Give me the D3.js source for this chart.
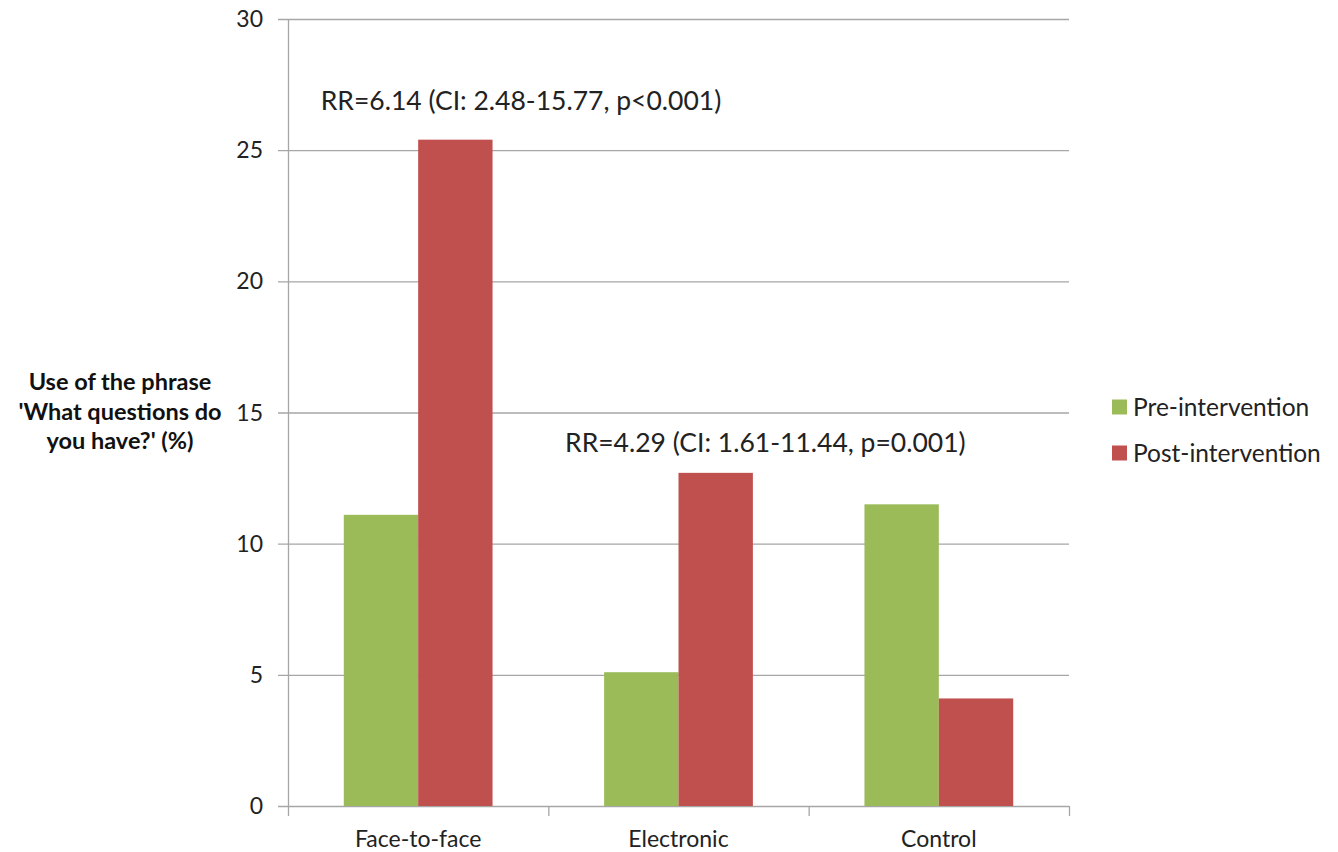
<!DOCTYPE html>
<html><head><meta charset="utf-8">
<script src="https://cdn.jsdelivr.net/npm/d3@7"></script>
<style>body{margin:0;background:#fff}text{font-family:Lato,"Open Sans",sans-serif}</style>
</head><body>
<svg id="c" width="1338" height="852"></svg>
<script>
const categories = ["Face-to-face", "Electronic", "Control"];
const seriesNames = ["Pre-intervention", "Post-intervention"];
const preValues = [11.1, 5.1, 11.5];
const postValues = [25.4, 12.7, 4.1];
const yTicks = [0, 5, 10, 15, 20, 25, 30];
const annotations = [
  {cat: "Face-to-face", y: 26.55, text: "RR=6.14 (CI: 2.48-15.77, p<0.001)", dx: 233},
  {cat: "Electronic", y: 13.5, text: "RR=4.29 (CI: 1.61-11.44, p=0.001)", dx: 217}
];
const colors = ["#9BBB59", "#C0504D"];

const svg = d3.select("#c");
const L = 288, R = 1069, T = 19, B = 806;
const x = d3.scaleBand().domain(categories).range([L, R]);
const xs = d3.scaleBand().domain(seriesNames).range([0, x.bandwidth()]).paddingInner(0).paddingOuter(0.75);
const y = d3.scaleLinear().domain([0, 30]).range([B, T]);

// gridlines
svg.append("g").selectAll("line").data(yTicks).join("line")
  .attr("x1", L - 10).attr("x2", R).attr("y1", d => y(d) + 0.5).attr("y2", d => y(d) + 0.5)
  .attr("stroke", "#a6a6a6").attr("stroke-width", 1.3);

// bars
const data = categories.map((c, i) => ({c, vals: [preValues[i], postValues[i]]}));
const g = svg.append("g").selectAll("g").data(data).join("g")
  .attr("transform", d => `translate(${x(d.c)},0)`);
g.selectAll("rect").data(d => d.vals.map((v, j) => ({v, s: seriesNames[j], j}))).join("rect")
  .attr("x", d => xs(d.s)).attr("width", xs.bandwidth())
  .attr("y", d => y(d.v)).attr("height", d => B - y(d.v))
  .attr("fill", d => colors[d.j]);

// y axis line
svg.append("line").attr("x1", L + 0.5).attr("x2", L + 0.5).attr("y1", T).attr("y2", B)
  .attr("stroke", "#a6a6a6").attr("stroke-width", 1.3);
// x axis ticks
const xticks = categories.map(c => x(c)).concat([R]);
svg.append("g").selectAll("line").data(xticks).join("line")
  .attr("x1", d => d + 0.5).attr("x2", d => d + 0.5).attr("y1", B).attr("y2", B + 10)
  .attr("stroke", "#a6a6a6").attr("stroke-width", 1.3);

// y tick labels
svg.append("g").selectAll("text").data(yTicks).join("text")
  .attr("x", 263).attr("y", d => y(d)).attr("dy", "0.35em")
  .attr("text-anchor", "end").attr("font-size", 23).attr("fill", "#222").text(d => d);

// x labels
svg.append("g").selectAll("text").data(categories).join("text")
  .attr("x", d => x(d) + x.bandwidth() / 2).attr("y", 847)
  .attr("text-anchor", "middle").attr("font-size", 23).attr("fill", "#222").text(d => d);

// annotations
svg.append("g").selectAll("text").data(annotations).join("text")
  .attr("x", d => x(d.cat) + d.dx).attr("y", d => y(d.y))
  .attr("text-anchor", "middle").attr("font-size", 26.5).attr("fill", "#222").text(d => d.text);

// y axis title
const title = ["Use of the phrase", "'What questions do", "you have?' (%)"];
svg.append("g").selectAll("text").data(title).join("text")
  .attr("x", 120).attr("y", (d, i) => 390 + i * 29.5)
  .attr("text-anchor", "middle").attr("font-size", 23.5).attr("font-weight", "bold").attr("fill", "#111").text(d => d);

// legend
const lg = svg.append("g").selectAll("g").data(seriesNames).join("g")
  .attr("transform", (d, i) => `translate(1112,${407 + i * 46})`);
lg.append("rect").attr("x", 0).attr("y", -7.5).attr("width", 15).attr("height", 15).attr("fill", (d, i) => colors[i]);
lg.append("text").attr("x", 21).attr("y", 0).attr("dy", "0.35em").attr("font-size", 24.5).attr("fill", "#222").text(d => d);
</script>
</body></html>
